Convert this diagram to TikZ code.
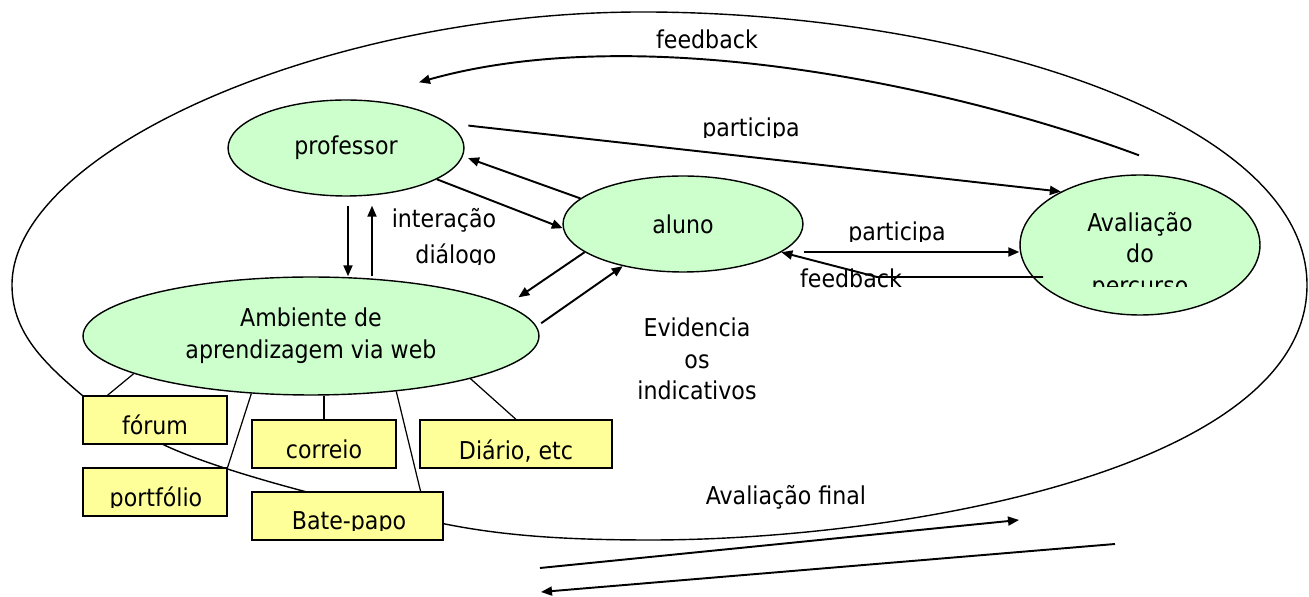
\documentclass[tikz,border=0pt]{standalone}
\usepackage{fontspec}
\setmainfont{DejaVu Sans Condensed}
\usepackage{xcolor}
\usetikzlibrary{shapes.geometric,arrows.meta,calc}
\definecolor{ovalgreen}{HTML}{CCFFCC}
\definecolor{noteyellow}{HTML}{FFFF99}
% text cut off at a given height (#4, px from top)
\newcommand{\cutlabel}[5]{%
  \begin{scope}
    \clip (0,0) rectangle (1309,#4);
    \node[lbl, #2] (#1) at (#3) {#5};
  \end{scope}}

\begin{document}
\begin{tikzpicture}[x=0.02cm, y=-0.02cm, font=\fontsize{14pt}{18pt}\selectfont,
  >={Triangle[length=2.2mm, width=1.8mm]},
  oval/.style={draw, ellipse, fill=ovalgreen, line width=0.8pt, inner sep=0pt, align=center},
  note/.style={draw, fill=noteyellow, line width=0.7pt, inner sep=0pt, minimum height=0.96cm, text height=0.6cm, text depth=0pt},
  lbl/.style={inner sep=0pt, align=center},
  arr/.style={->, line width=1.1pt},
  tie/.style={line width=0.7pt},
  rim/.style={line width=0.8pt}]
\useasboundingbox (0,0) rectangle (1309,597);
% outer loop
\draw[rim] (12,285) .. controls (12,150) and (330,10) .. (650,12)
  .. controls (970,14) and (1307,120) .. (1307,285)
  .. controls (1307,470) and (900,540) .. (650,540)
  .. controls (560,540) and (500,535) .. (445,524)
  .. controls (350,505) and (220,472) .. (162,444)
  .. controls (120,425) and (100,410) .. (83,396)
  .. controls (40,360) and (12,330) .. (12,285) -- cycle;
% ellipses
\node[oval, minimum width=4.72cm, minimum height=1.92cm] (prof) at (346,148) {professor};
\node[oval, minimum width=4.8cm, minimum height=1.92cm] (aluno) at (683,224) {aluno};
\node[oval, minimum width=9.12cm, minimum height=2.36cm] (amb) at (311,336) {Ambiente de\\aprendizagem via web};
\node[oval, minimum width=4.8cm, minimum height=2.8cm] (aval) at (1140,245) {};
\cutlabel{avaltxt}{}{1140,256}{287}{Avaliação\\do\\percurso}
% tools
\node[note, minimum width=2.88cm] (forum) at (155,420) {fórum};
\node[note, minimum width=2.88cm] (correio) at (324,444) {correio};
\node[note, minimum width=3.84cm] (diario) at (516,444) {};
\node[note, minimum width=2.88cm] (port) at (155,492) {};
\node[note, minimum width=3.82cm] (bate) at (347.5,516) {};
\cutlabel{diariotxt}{anchor=base}{516,460}{463}{Diário, etc}
\cutlabel{porttxt}{anchor=base}{156,507}{508}{portfólio}
\cutlabel{batetxt}{anchor=base}{349,530}{531}{Bate-papo}
% labels
\node[lbl, anchor=base] (fbtop) at (707,49) {feedback};
\cutlabel{parttop}{anchor=base}{751,137}{138}{participa}
\node[lbl, anchor=base] (inter) at (444,228) {interação};
\cutlabel{dialogo}{anchor=base}{456,264}{265}{diálogo}
\cutlabel{partmid}{anchor=base}{897,241}{242}{participa}
\node[lbl, anchor=base] (fbmid) at (851,288) {feedback};
\node[lbl] (evid) at (697,359) {Evidencia\\os\\indicativos};
\node[lbl, anchor=base] (final) at (786,505) {Avaliação final};
\coordinate (fin1s) at (540,568); \coordinate (fin1e) at (1019,520);
\coordinate (fin2s) at (1115,544); \coordinate (fin2e) at (541,592);
% connectors
\draw[arr] ($(prof.south)+(2,9)$) -- ($(amb.north)+(37,0)$);
\draw[arr] ($(amb.north)+(61,0)$) -- ($(prof.south)+(26,9)$);
\draw[arr] (prof.-19) -- (aluno.182);
\draw[arr] (aluno.166) -- ($(prof.-5)+(6,0)$);
\draw[arr] ($(prof.12)+(17,0)$) -- (aval.146);
\draw[arr] (aluno.196) -- ($(amb.11)+(24,-3)$);
\draw[arr] ($(amb.3)+(6,-1)$) -- (aluno.215);
\draw[arr] ($(aluno.east)+(0,28)$) -- ($(aval.west)+(0,7)$);
\draw[arr] ($(aval.center)+(-97,32)$) -- ++(-166,0) -- (aluno.-16);
\draw[arr] ($(aval.north)+(-1,-19)$) .. controls (950,85) and (640,20) .. ($(prof.north)+(73,-17)$);
\draw[arr] (fin1s) -- (fin1e);
\draw[arr] (fin2s) -- (fin2e);
\draw[tie] (amb.192) -- ($(forum.north west)+(25,0)$);
\draw[tie] (amb.224) -- (port.north east);
\draw[tie] (correio.north |- amb.south) -- (correio.north);
\draw[tie] (amb.-33) -- ($(bate.north east)+(-23,0)$);
\draw[tie] (amb.-15) -- (diario.north);
\end{tikzpicture}
\end{document}
